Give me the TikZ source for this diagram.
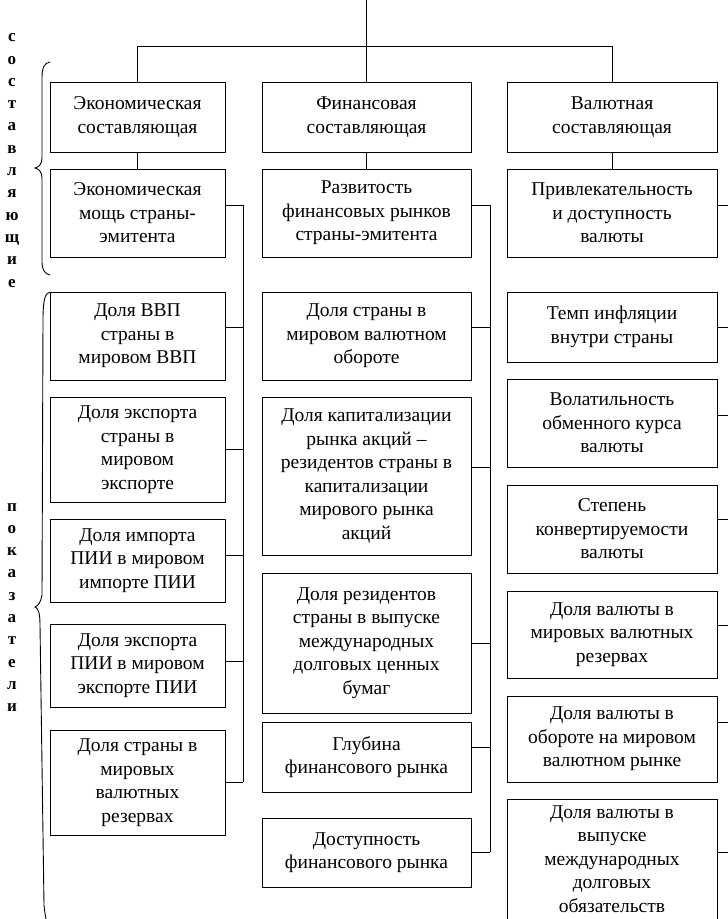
\documentclass[tikz,border=0pt]{standalone}
\usepackage{fontspec}
\setmainfont{Liberation Serif}
\begin{document}
\begin{tikzpicture}[x=1pt,y=-1pt,
  box/.style={draw, line width=0.9pt, align=center, inner sep=0pt,
    font=\fontsize{19.5}{23.5}\selectfont},
  link/.style={line width=0.9pt},
  vlabel/.style={font=\bfseries\fontsize{17}{22.3}\selectfont, align=center, inner sep=0pt},
  bracepath/.style={line width=0.9pt}]
\useasboundingbox[fill=white] (0,0) rectangle (728,919);
\newcommand\mybox[6]{\node[box, minimum width=#4pt, minimum height=#5pt] (#1) at (#2,#3) {#6};}
\newcommand\mylink[3]{\coordinate (#1s) at (#1.east |- 0,#2); \draw[link] (#1s) -- (#1s -| #3);}
% top level boxes
\mybox{e1}{137.5}{117}{175}{70}{Экономическая\\составляющая}
\mybox{f1}{366.5}{117}{209}{70}{Финансовая\\составляющая}
\mybox{v1}{612}{117}{210}{70}{Валютная\\составляющая}
\mybox{e2}{137.5}{213}{175}{88}{Экономическая\\мощь страны-\\эмитента}
\mybox{f2}{366.5}{213}{209}{88}{Развитость\\финансовых рынков\\страны-эмитента}
\mybox{v2}{612}{213}{210}{88}{Привлекательность\\и доступность\\валюты}
% column 1
\mybox{a1}{137.5}{336}{175}{88}{Доля ВВП\\страны в\\мировом ВВП}
\mybox{a2}{137.5}{449.5}{175}{105}{Доля экспорта\\страны в\\мировом\\экспорте}
\mybox{a3}{137.5}{560.5}{175}{83}{Доля импорта\\ПИИ в мировом\\импорте ПИИ}
\mybox{a4}{137.5}{665.5}{175}{83}{Доля экспорта\\ПИИ в мировом\\экспорте ПИИ}
\mybox{a5}{137.5}{782.5}{175}{105}{Доля страны в\\мировых\\валютных\\резервах}
% column 2
\mybox{b1}{366.5}{336}{209}{88}{Доля страны в\\мировом валютном\\обороте}
\mybox{b2}{366.5}{476}{209}{158}{Доля капитализации\\рынка акций –\\резидентов страны в\\капитализации\\мирового рынка\\акций}
\mybox{b3}{366.5}{643}{209}{140}{Доля резидентов\\страны в выпуске\\международных\\долговых ценных\\бумаг}
\mybox{b4}{366.5}{757}{209}{70}{Глубина\\финансового рынка}
\mybox{b5}{366.5}{852.5}{209}{69}{Доступность\\финансового рынка}
% column 3
\mybox{c1}{612}{327}{210}{70}{Темп инфляции\\внутри страны}
\mybox{c2}{612}{423}{210}{88}{Волатильность\\обменного курса\\валюты}
\mybox{c3}{612}{529}{210}{88}{Степень\\конвертируемости\\валюты}
\mybox{c4}{612}{634.5}{210}{87}{Доля валюты в\\мировых валютных\\резервах}
\mybox{c5}{612}{739}{210}{86}{Доля валюты в\\обороте на мировом\\валютном рынке}
\mybox{c6}{612}{859}{210}{120}{Доля валюты в\\выпуске\\международных\\долговых\\обязательств}
% top connectors
\coordinate (top) at (366.5,-2);
\coordinate (bar) at (0,46);
\draw[link] (top) -- (f1.north);
\draw[link] (e1.north) -- (e1.north |- bar) -- (v1.north |- bar) -- (v1.north);
\draw[link] (e1) -- (e2);
\draw[link] (f1) -- (f2);
\draw[link] (v1) -- (v2);
% buses
\coordinate (bus1) at (243,0);
\coordinate (bus2) at (490,0);
\coordinate (edge) at (730,0);
\mylink{e2}{205}{bus1}
\mylink{a1}{327}{bus1}
\mylink{a2}{449}{bus1}
\mylink{a3}{555}{bus1}
\mylink{a4}{661}{bus1}
\mylink{a5}{782}{bus1}
\draw[link] (e2s -| bus1) -- (a5s -| bus1);
\mylink{f2}{205}{bus2}
\mylink{b1}{327}{bus2}
\mylink{b2}{467}{bus2}
\mylink{b3}{643}{bus2}
\mylink{b4}{747}{bus2}
\mylink{b5}{852}{bus2}
\draw[link] (f2s -| bus2) -- (b5s -| bus2);
\mylink{v2}{205}{edge}
\mylink{c1}{327}{edge}
\mylink{c2}{415}{edge}
\mylink{c3}{519}{edge}
\mylink{c4}{625}{edge}
\mylink{c5}{722}{edge}
\mylink{c6}{852}{edge}
% vertical labels
\node[vlabel] (sost) at (12,160.5) {с\\о\\с\\т\\а\\в\\л\\я\\ю\\щ\\и\\е};
\node[vlabel] (pokaz) at (12,607.5) {п\\о\\к\\а\\з\\а\\т\\е\\л\\и};
% braces
\draw[bracepath] (50,62) .. controls (44,63) and (42,68) .. (42,78) -- (42,158)
  .. controls (42,164) and (39,167) .. (35,168) .. controls (39,169) and (42,172) .. (42,178)
  -- (42,262) .. controls (42,270) and (45,274) .. (50,275);
\draw[bracepath] (50,292) .. controls (45,293) and (43,300) .. (43,320) -- (42,595)
  .. controls (41,602) and (38,606) .. (35,607) .. controls (38,608) and (40,612) .. (40,625)
  -- (44,905) .. controls (45,915) and (46,920) .. (48,925);
\end{tikzpicture}
\end{document}
